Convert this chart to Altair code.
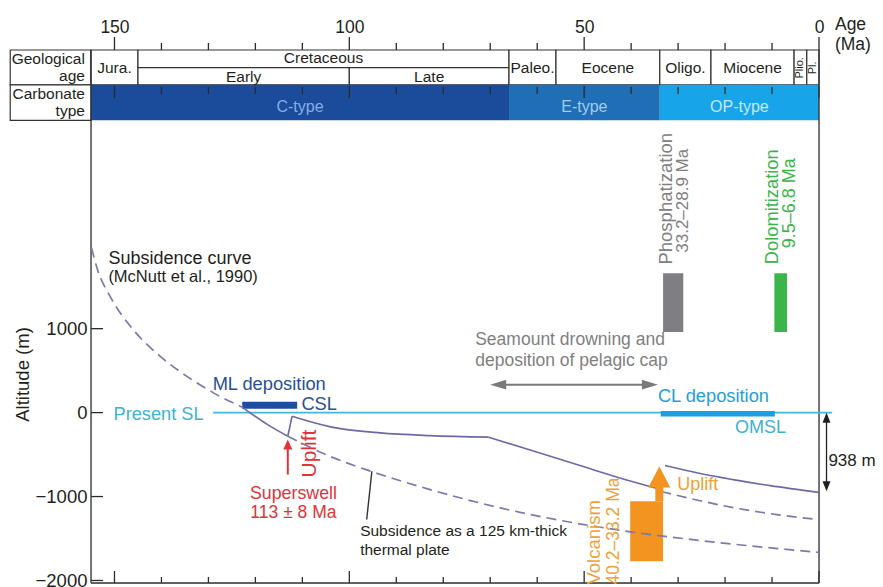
import altair as alt
import pandas as pd

# ---------------- axis values ----------------
AGE_MAJOR = [150, 100, 50, 0]
AGE_MINOR = [140, 130, 120, 110, 90, 80, 70, 60, 40, 30, 20, 10]
ALT_TICKS = [-2000, -1000, 0, 1000]

# ---------------- geological time scale (Ma) ----------------
GEO_NAMES = ["Jura.", "Cretaceous", "Early", "Late", "Paleo.", "Eocene", "Oligo.", "Miocene", "Plio.", "Pl."]
GEO_START = [155, 145, 145, 100, 66, 56, 33.9, 23, 5.3, 2.6]
GEO_END = [145, 66, 100, 66, 56, 33.9, 23, 5.3, 2.6, 0]
GEO_ROW = ["full", "upper", "lower", "lower", "full", "full", "full", "full", "full", "full"]

CARB_NAMES = ["C-type", "E-type", "OP-type"]
CARB_START = [155, 66, 33.9]
CARB_END = [66, 33.9, 0]
CARB_FILL = ["#1b4b9b", "#1f6eb6", "#17a4e8"]
CARB_TEXT = ["#86ade4", "#a3cbef", "#c4e8fa"]

# ---------------- curves (age Ma, altitude m) ----------------
MCNUTT_AGE = [154.9, 153.6, 150.9, 146.0, 140.2, 134.5, 129.0, 123.0]
MCNUTT_ALT = [1964, 1702, 1381, 988, 667, 429, 238, 71]

DASH_LOW_AGE = [113.1, 104.0, 95.5, 82.8, 67.9, 40.2, 25.3, 0]
DASH_LOW_ALT = [-282, -524, -697, -917, -1135, -1420, -1524, -1665]

DASH_UP_AGE = [33.6, 25.3, 18.2, 9.0, 0]
DASH_UP_ALT = [-940, -1050, -1133, -1215, -1275]

SOLID1_AGE = [123.0, 117.4, 113.1]
SOLID1_ALT = [71, -143, -282]
UPLIFT1_AGE = [113.1, 112.2]
UPLIFT1_ALT = [-282, -44]
SOLID2_AGE = [112.2, 104.0, 93.4, 82.8, 70.4]
SOLID2_ALT = [-44, -170, -242, -274, -292]
SOLID3_AGE = [70.4, 61.5, 50.9, 40.2, 34.5]
SOLID3_ALT = [-292, -446, -631, -815, -905]
SOLID4_AGE = [32.8, 25.3, 18.3, 10.4, 0]
SOLID4_ALT = [-631, -726, -798, -870, -950]

LEADER_AGE = [95.2, 96.3]
LEADER_ALT = [-699, -1274]

# ---------------- event bars ----------------
EV_NAMES = ["ML deposition", "CL deposition", "Phosphatization", "Dolomitization", "Volcanism"]
EV_START = [122.8, 33.7, 33.2, 9.5, 40.2]
EV_END = [111.1, 9.4, 28.9, 6.8, 33.2]
EV_LO = [45, -45, 960, 960, -1770]
EV_HI = [130, 20, 1660, 1660, -1056]
EV_COLOR = ["#1f4ea0", "#1a9fe0", "#7f7f83", "#3bb54a", "#f39320"]

SL_AGE = [129.0, -2.8]
OFFSET_938 = -938

# ---------------- layout constants (altitude units of the y scale) ----------------
Y_TOP, Y_MID, Y_SPLIT, Y_BOT = 4320, 4111, 3905, 3482
LABEL_COL = 172.2
W, H = 728, 533

DARK = "#231f20"
RED = "#e2333a"
ORANGE = "#f39320"
ORANGE_T = "#f0a035"
CYAN = "#3bb3d3"
LINE = "#6c6aa6"
GRAY = "#808080"

xscale = alt.Scale(domain=[155, 0], nice=False, zero=False)
yscale = alt.Scale(domain=[-2030, 4320], nice=False, zero=False)
xaxis = alt.Axis(orient="top", values=AGE_MAJOR, ticks=False, tickSize=0, domain=False, grid=False,
                 labelFontSize=17.5, labelPadding=14, labelColor=DARK, labelFlush=False,
                 format="d", title=None)
yaxis = alt.Axis(values=ALT_TICKS, ticks=False, tickSize=0, domain=False, grid=False,
                 labelFontSize=18.5, labelPadding=4, labelColor=DARK, format="d",
                 title="Altitude (m)", titleFontSize=18.5, titleFontWeight="normal", titleColor=DARK,
                 titleX=-69, titleY=324, titleAngle=270, titleAlign="center", titleBaseline="middle")


def X(f="age"):
    return alt.X(f, type="quantitative", scale=xscale, axis=xaxis)


def Y(f="alt"):
    return alt.Y(f, type="quantitative", scale=yscale, axis=yaxis)


layers = []

# ----- table: label column -----
lab_df = pd.DataFrame({"a0": [LABEL_COL, LABEL_COL], "a1": [155, 155],
                       "y0": [Y_TOP, Y_SPLIT], "y1": [Y_SPLIT, Y_BOT]})
layers.append(alt.Chart(lab_df).mark_rect(fill="white", stroke="#333", strokeWidth=1.2).encode(
    x=X("a0"), x2="a1", y=Y("y0"), y2="y1"))

# ----- geological age row -----
row_top = {"full": Y_TOP, "upper": Y_TOP, "lower": Y_MID}
row_bot = {"full": Y_SPLIT, "upper": Y_MID, "lower": Y_SPLIT}
geo_df = pd.DataFrame({"name": GEO_NAMES, "a0": GEO_START, "a1": GEO_END, "row": GEO_ROW})
geo_df["y0"] = geo_df["row"].map(row_top)
geo_df["y1"] = geo_df["row"].map(row_bot)
layers.append(alt.Chart(geo_df).mark_rect(fill="white", stroke="#333", strokeWidth=1.2).encode(
    x=X("a0"), x2="a1", y=Y("y0"), y2="y1"))

# ----- carbonate row -----
carb_df = pd.DataFrame({"name": CARB_NAMES, "a0": CARB_START, "a1": CARB_END,
                        "fill": CARB_FILL, "tcol": CARB_TEXT})
carb_df["y0"] = Y_SPLIT
carb_df["y1"] = Y_BOT
layers.append(alt.Chart(carb_df).mark_rect(strokeWidth=0).encode(
    x=X("a0"), x2="a1", y=Y("y0"), y2="y1", fill=alt.Fill("fill:N", scale=None)))

# ----- tick marks -----
maj_df = pd.DataFrame({"age": AGE_MAJOR})
min_df = pd.DataFrame({"age": AGE_MINOR})
tick_style = dict(color="#2a2a2a", strokeWidth=1.3)
layers.append(alt.Chart(maj_df).mark_rule(**tick_style).encode(x=X(), y=alt.value(-13), y2=alt.value(0)))
layers.append(alt.Chart(min_df).mark_rule(**tick_style).encode(x=X(), y=alt.value(-7), y2=alt.value(0)))
layers.append(alt.Chart(maj_df).mark_rule(**tick_style).encode(x=X(), y=alt.value(36), y2=alt.value(48)))
layers.append(alt.Chart(min_df).mark_rule(**tick_style).encode(x=X(), y=alt.value(37), y2=alt.value(44)))
layers.append(alt.Chart(maj_df).mark_rule(**tick_style).encode(x=X(), y=alt.value(H - 12), y2=alt.value(H)))
layers.append(alt.Chart(min_df).mark_rule(**tick_style).encode(x=X(), y=alt.value(H - 6), y2=alt.value(H)))
ytick_df = pd.DataFrame({"alt": ALT_TICKS})
layers.append(alt.Chart(ytick_df).mark_rule(**tick_style).encode(y=Y(), x=alt.value(0), x2=alt.value(12)))

# ----- frame -----
one = pd.DataFrame({"d": [0]})
frame_style = dict(color="#333", strokeWidth=1.3)
layers.append(alt.Chart(one).mark_rule(**frame_style).encode(x=alt.value(0), y=alt.value(0), y2=alt.value(H)))
layers.append(alt.Chart(one).mark_rule(**frame_style).encode(x=alt.value(W), y=alt.value(0), y2=alt.value(H)))
layers.append(alt.Chart(one).mark_rule(**frame_style).encode(x=alt.value(0), x2=alt.value(W), y=alt.value(H)))

# ----- present sea level -----
sl_df = pd.DataFrame({"age": [SL_AGE[0]], "age2": [SL_AGE[1]], "alt": [0]})
layers.append(alt.Chart(sl_df).mark_rule(color="#45b8d8", strokeWidth=1.6).encode(
    x=X("age"), x2="age2", y=Y("alt")))

# ----- event bars -----
ev_df = pd.DataFrame({"name": EV_NAMES, "a0": EV_START, "a1": EV_END, "lo": EV_LO, "hi": EV_HI, "col": EV_COLOR})
layers.append(alt.Chart(ev_df).mark_rect().encode(
    x=X("a0"), x2="a1", y=Y("lo"), y2="hi", fill=alt.Fill("col:N", scale=None)))


# ----- curves -----
def seg_df(segs):
    rows = []
    for sid, (ages, alts) in enumerate(segs):
        for i, (a, v) in enumerate(zip(ages, alts)):
            rows.append({"seg": sid, "i": i, "age": a, "alt": v})
    return pd.DataFrame(rows)


dash_df = seg_df([(MCNUTT_AGE, MCNUTT_ALT), (DASH_LOW_AGE, DASH_LOW_ALT), (DASH_UP_AGE, DASH_UP_ALT)])
layers.append(alt.Chart(dash_df).mark_line(color="#7b7aab", strokeWidth=1.7, strokeDash=[10, 6],
                                           interpolate="monotone").encode(
    x=X(), y=Y(), detail="seg:N", order="i:Q"))
solid_df = seg_df([(SOLID1_AGE, SOLID1_ALT), (UPLIFT1_AGE, UPLIFT1_ALT), (SOLID2_AGE, SOLID2_ALT),
                   (SOLID3_AGE, SOLID3_ALT), (SOLID4_AGE, SOLID4_ALT)])
layers.append(alt.Chart(solid_df).mark_line(color=LINE, strokeWidth=1.6, interpolate="monotone").encode(
    x=X(), y=Y(), detail="seg:N", order="i:Q"))
lead_df = seg_df([(LEADER_AGE, LEADER_ALT)])
layers.append(alt.Chart(lead_df).mark_line(color="#333", strokeWidth=1.4).encode(
    x=X(), y=Y(), order="i:Q"))

# ----- arrows -----
# red superswell arrow
layers.append(alt.Chart(pd.DataFrame({"age": [113.1], "a": [-738], "b": [-400]})).mark_rule(
    color=RED, strokeWidth=2).encode(x=X(), y=Y("a"), y2="b"))
layers.append(alt.Chart(pd.DataFrame({"age": [113.1], "alt": [-381]})).mark_point(
    shape="M0,-1L0.9,1L-0.9,1Z", size=100, filled=True, color=RED, opacity=1).encode(x=X(), y=Y()))
# orange volcanism uplift arrow
layers.append(alt.Chart(pd.DataFrame({"age": [34.0], "a": [-1056], "b": [-860]})).mark_rule(
    color=ORANGE, strokeWidth=8).encode(x=X(), y=Y("a"), y2="b"))
layers.append(alt.Chart(pd.DataFrame({"age": [34.0], "alt": [-774]})).mark_point(
    shape="M0,-1L1,0.9L-1,0.9Z", size=484, filled=True, color=ORANGE, opacity=1).encode(x=X(), y=Y()))
# gray double arrow (seamount drowning)
layers.append(alt.Chart(pd.DataFrame({"age": [69.0], "age2": [35.3], "alt": [333]})).mark_rule(
    color="#7a7a7a", strokeWidth=2).encode(x=X(), x2="age2", y=Y()))
layers.append(alt.Chart(pd.DataFrame({"age": [36.0], "alt": [333]})).mark_point(
    shape="M1,0L-1,-0.6L-1,0.6Z", size=256, filled=True, color="#7a7a7a", opacity=1).encode(x=X(), y=Y()))
layers.append(alt.Chart(pd.DataFrame({"age": [68.3], "alt": [333]})).mark_point(
    shape="M-1,0L1,-0.6L1,0.6Z", size=256, filled=True, color="#7a7a7a", opacity=1).encode(x=X(), y=Y()))
# 938 m double arrow
layers.append(alt.Chart(pd.DataFrame({"age": [-1.6], "a": [-40], "b": [OFFSET_938 + 40]})).mark_rule(
    color=DARK, strokeWidth=1.3).encode(x=X(), y=Y("a"), y2="b"))
layers.append(alt.Chart(pd.DataFrame({"age": [-1.6], "alt": [-60]})).mark_point(
    shape="M0,-1L0.8,1L-0.8,1Z", size=100, filled=True, color=DARK, opacity=1).encode(x=X(), y=Y()))
layers.append(alt.Chart(pd.DataFrame({"age": [-1.6], "alt": [OFFSET_938 + 60]})).mark_point(
    shape="M0,1L0.8,-1L-0.8,-1Z", size=100, filled=True, color=DARK, opacity=1).encode(x=X(), y=Y()))

# ----- texts -----
txt = []


def T(text, age, altv, color, size, angle=0, anchor="left"):
    txt.append({"text": text, "age": age, "alt": altv, "color": color, "size": size,
                "angle": angle, "anchor": anchor})


# table texts
row_text_y = {"full": 4107, "upper": 4226, "lower": 4000}
for n, a0, a1, r in zip(GEO_NAMES, GEO_START, GEO_END, GEO_ROW):
    if n in ("Plio.", "Pl."):
        T(n, (a0 + a1) / 2, 4107, DARK, 11, 270, "center")
    else:
        T(n, (a0 + a1) / 2, row_text_y[r], DARK, 15.5, 0, "center")
for n, a0, a1, c in zip(CARB_NAMES, CARB_START, CARB_END, CARB_TEXT):
    T(n, (a0 + a1) / 2, 3643, c, 16, 0, "center")
T("Geological", 156.3, 4214, DARK, 15.5, 0, "right")
T("age", 156.3, 4012, DARK, 15.5, 0, "right")
T("Carbonate", 156.3, 3798, DARK, 15.5, 0, "right")
T("type", 156.3, 3595, DARK, 15.5, 0, "right")
T("Age", -3.4, 4620, DARK, 17.5)
T("(Ma)", -3.4, 4375, DARK, 17.5)

# annotations
T("Subsidence curve", 151.3, 1825, DARK, 18)
T("(McNutt et al., 1990)", 151.3, 1615, DARK, 16.5)
T("ML deposition", 129.1, 333, "#2a4f93", 18.3)
T("CSL", 110.2, 95, "#2a4f93", 18.3)
T("Present SL", 150.2, -24, CYAN, 18.2)
T("Subsidence  as a 125 km-thick", 97.7, -1405, DARK, 15.5)
T("thermal plate", 97.7, -1631, DARK, 15.5)
T("Seamount drowning and", 73.2, 860, GRAY, 17.5)
T("deposition of pelagic cap", 73.2, 610, GRAY, 17.5)
T("CL deposition", 34.3, 190, "#1e9fd9", 18.3)
T("OMSL", 17.9, -179, CYAN, 18)
T("Uplift", 30.2, -857, ORANGE_T, 18)
T("938 m", -2.0, -571, DARK, 17)
T("Volcanism", 48.0, -2048, ORANGE_T, 18.5, 270, "left")
T("40.2\u201333.2 Ma", 43.6, -2048, ORANGE_T, 17.5, 270, "left")
T("Uplift", 108.3, -488, RED, 21, 270, "center")
T("Superswell", 111.9, -970, RED, 17.8, 0, "center")
T("113 \u00b1 8 Ma", 111.9, -1196, RED, 17.5, 0, "center")
T("Phosphatization", 32.6, 2548, GRAY, 18.5, 270, "center")
T("33.2\u201328.9 Ma", 29.0, 2524, GRAY, 17, 270, "center")
T("Dolomitization", 9.9, 2452, "#3bb54a", 18.3, 270, "center")
T("9.5\u20136.8 Ma", 6.2, 2494, "#3bb54a", 18, 270, "center")

txt_df = pd.DataFrame(txt)
for anchor in ["left", "center", "right"]:
    layers.append(alt.Chart(txt_df).transform_filter(alt.datum.anchor == anchor).mark_text(
        align=anchor, baseline="middle").encode(
        x=X(), y=Y(), text="text:N",
        color=alt.Color("color:N", scale=None),
        size=alt.Size("size:Q", scale=None),
        angle=alt.Angle("angle:Q", scale=None)))

chart = alt.layer(*layers).properties(
    width=W, height=H,
    autosize=alt.AutoSizeParams(type="none"),
    padding={"left": 83, "top": 42, "right": 56, "bottom": 4},
).configure_view(strokeWidth=0).configure(font="Liberation Sans")

chart.save("out.html", embed_options={"renderer": "svg", "actions": False})
